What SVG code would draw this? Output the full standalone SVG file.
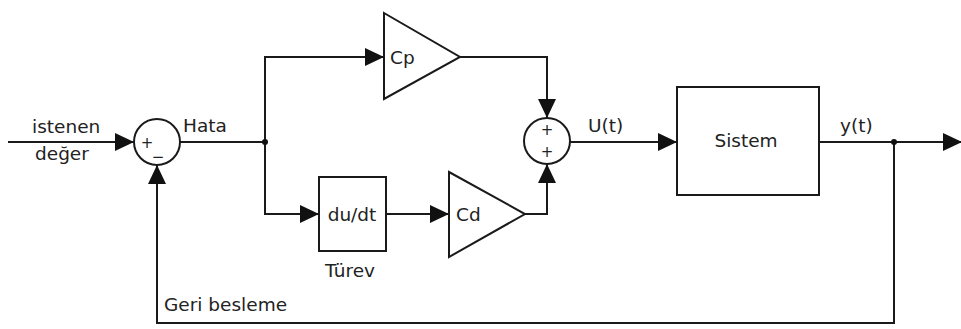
<svg xmlns="http://www.w3.org/2000/svg" width="961" height="329" viewBox="0 0 961 329">
<defs>
<marker id="ah" markerUnits="userSpaceOnUse" markerWidth="20" markerHeight="18" refX="19" refY="9" orient="auto">
<path d="M0,0 L19,9 L0,18 z" fill="#111"/>
</marker>
<style>
.ln{fill:none;stroke:#1a1a1a;stroke-width:2}
.bx{fill:#fff;stroke:#1a1a1a;stroke-width:2}
.t{font-family:"DejaVu Sans",sans-serif;font-size:18.5px;fill:#222}
.s{font-family:"DejaVu Sans",sans-serif;font-size:15px;fill:#222}
</style>
</defs>
<rect width="961" height="329" fill="#fff"/>
<g id="connectors">
<path class="ln" d="M8,142 H134" marker-end="url(#ah)"/>
<path class="ln" d="M180,142 H265"/>
<path class="ln" d="M265,142 V57 H384" marker-end="url(#ah)"/>
<path class="ln" d="M265,142 V214 H319" marker-end="url(#ah)"/>
<path class="ln" d="M386,214 H449" marker-end="url(#ah)"/>
<path class="ln" d="M460,57 H547 V118" marker-end="url(#ah)"/>
<path class="ln" d="M525,214 H547 V164" marker-end="url(#ah)"/>
<path class="ln" d="M570,142 H677" marker-end="url(#ah)"/>
<path class="ln" d="M819,142 H962" marker-end="url(#ah)"/>
<path class="ln" d="M894,142 V323 H157 V165" marker-end="url(#ah)"/>
<circle cx="265" cy="142" r="3" fill="#111"/>
<circle cx="894" cy="142" r="3" fill="#111"/>
</g>
<g id="sum1">
<circle class="bx" cx="157" cy="142" r="23" stroke-width="1.5"/>
<text class="s" x="147" y="148" text-anchor="middle">+</text>
<text class="s" x="158" y="162" text-anchor="middle">−</text>
</g>
<g id="cp">
<polygon class="bx" points="384,13 460,57 384,99"/>
<text class="t" x="390" y="64">Cp</text>
</g>
<g id="turev">
<rect class="bx" x="319" y="177" width="67" height="74"/>
<text class="t" x="352" y="221" text-anchor="middle">du/dt</text>
</g>
<g id="cd">
<polygon class="bx" points="449,172 525,214 449,257"/>
<text class="t" x="456" y="221">Cd</text>
</g>
<g id="sum2">
<circle class="bx" cx="547" cy="141" r="23" stroke-width="1.5"/>
<text class="s" x="547" y="135" text-anchor="middle">+</text>
<text class="s" x="547" y="157" text-anchor="middle">+</text>
</g>
<g id="sistem">
<rect class="bx" x="677" y="87" width="142" height="108"/>
<text class="t" x="746" y="147" text-anchor="middle">Sistem</text>
</g>
<g id="labels">
<text class="t" x="32" y="133">istenen</text>
<text class="t" x="35" y="160">değer</text>
<text class="t" x="183" y="132">Hata</text>
<text class="t" x="588" y="132">U(t)</text>
<text class="t" x="840" y="132">y(t)</text>
<text class="t" x="350" y="277" text-anchor="middle">Türev</text>
<text class="t" x="164" y="311">Geri besleme</text>
</g>
</svg>
